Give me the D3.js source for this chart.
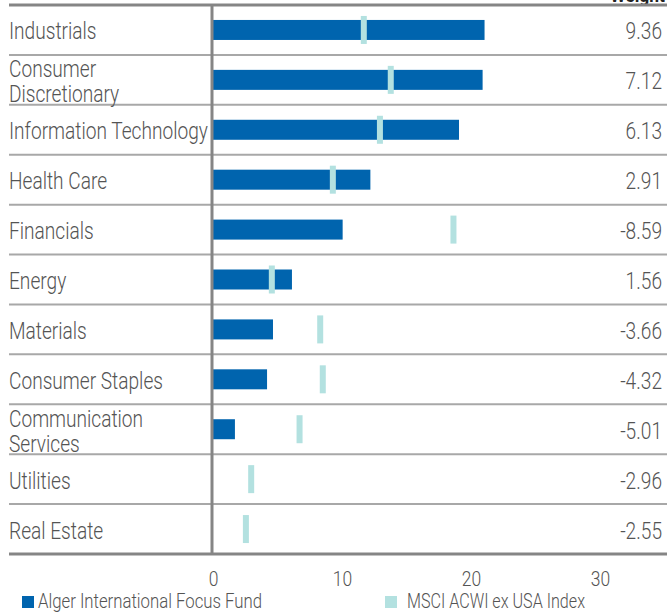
<!DOCTYPE html>
<html>
<head>
<meta charset="utf-8">
<script src="https://cdn.jsdelivr.net/npm/d3@7"></script>
<style>
  html, body { margin: 0; padding: 0; background: #fff; }
  svg { display: block; }
  text { font-family: Roboto, "Noto Sans", sans-serif; font-weight: 300; }
</style>
</head>
<body>
<svg id="chart" width="667" height="613"></svg>
<script>
const categories = [
  ["Industrials"],
  ["Consumer", "Discretionary"],
  ["Information Technology"],
  ["Health Care"],
  ["Financials"],
  ["Energy"],
  ["Materials"],
  ["Consumer Staples"],
  ["Communication", "Services"],
  ["Utilities"],
  ["Real Estate"]
];
const fundValues  = [21.05, 20.90, 19.07, 12.20, 10.05, 6.12, 4.65, 4.19, 1.70, 0, 0];
const indexValues = [11.69, 13.78, 12.94, 9.29, 18.64, 4.56, 8.31, 8.51, 6.71, 2.96, 2.55];
const activeWeights = ["9.36", "7.12", "6.13", "2.91", "-8.59", "1.56", "-3.66", "-4.32", "-5.01", "-2.96", "-2.55"];
const tickValues = [0, 10, 20, 30];
const seriesNames = ["Alger International Focus Fund", "MSCI ACWI ex USA Index"];

const fundColor = "#0064ae";
const indexColor = "#b3e1e0";
const textColor = "#545454";
const lineColor = "#a8a8a8";
const axisColor = "#858585";
const FS = 23;

const svg = d3.select("#chart");

const x = d3.scaleLinear().domain([0, 30]).range([213, 600]);
const y = d3.scaleBand().domain(d3.range(categories.length)).range([5, 554]).padding(0);
const bw = y.bandwidth();

// measure a condensing factor so the font matches the reference's narrow face
const probe = svg.append("text").attr("font-size", FS).text("Information Technology");
const natural = probe.node().getComputedTextLength();
probe.remove();
const sx = natural > 0 ? 199 / natural : 0.8;

// partially cropped header text
svg.append("text").attr("transform", `translate(665,2) scale(${sx},1)`).attr("text-anchor", "end")
  .attr("font-size", 21).style("font-weight", 700).attr("fill", "#222").text("Weight");

// row separators
svg.append("g").selectAll("line").data(d3.range(1, categories.length)).join("line")
  .attr("x1", 9).attr("x2", 667)
  .attr("y1", i => y(i)).attr("y2", i => y(i))
  .attr("stroke", lineColor).attr("stroke-width", 2);

// header & bottom line
svg.append("line").attr("x1", 9).attr("x2", 667).attr("y1", 5).attr("y2", 5)
  .attr("stroke", axisColor).attr("stroke-width", 3);
svg.append("line").attr("x1", 9).attr("x2", 667).attr("y1", 554).attr("y2", 554)
  .attr("stroke", axisColor).attr("stroke-width", 3);

// fund bars
svg.append("g").selectAll("rect").data(fundValues).join("rect")
  .attr("x", x(0))
  .attr("y", (d, i) => y(i) + bw / 2 - 10)
  .attr("width", d => x(d) - x(0))
  .attr("height", 20)
  .attr("fill", fundColor);

// index markers
svg.append("g").selectAll("rect").data(indexValues).join("rect")
  .attr("x", d => x(d) - 3)
  .attr("y", (d, i) => y(i) + bw / 2 - 14)
  .attr("width", 6)
  .attr("height", 28)
  .attr("fill", indexColor);

// vertical axis line
svg.append("line").attr("x1", 212).attr("x2", 212).attr("y1", 5).attr("y2", 555)
  .attr("stroke", axisColor).attr("stroke-width", 3);

// category labels
svg.append("g").selectAll("g").data(categories).join("g")
  .attr("transform", (d, i) => `translate(9,${y(i) + bw / 2}) scale(${sx},1)`)
  .each(function(d) {
    const g = d3.select(this);
    const lines = d.length === 1 ? [9.5] : [-2.5, 22.5];
    d.forEach((s, k) => {
      g.append("text").attr("x", 0).attr("y", lines[k])
        .attr("font-size", FS).attr("fill", textColor).text(s);
    });
  });

// active weights
svg.append("g").selectAll("text").data(activeWeights).join("text")
  .attr("transform", (d, i) => `translate(662,${y(i) + bw / 2 + 9.5}) scale(${sx},1)`)
  .attr("text-anchor", "end")
  .attr("font-size", FS)
  .attr("fill", textColor)
  .text(d => d);

// x axis tick labels
const xAxis = d3.axisBottom(x).tickValues(tickValues).tickSize(0).tickPadding(0);
const gx = svg.append("g").attr("transform", "translate(0,570)").call(xAxis);
gx.select(".domain").remove();
gx.selectAll("text")
  .attr("font-size", 21)
  .attr("fill", textColor)
  .attr("dy", 0).attr("y", 0)
  .attr("transform", `translate(0,16) scale(${sx},1)`)
  .style("font-family", "Roboto, sans-serif")
  .style("font-weight", 300);

// legend
const legX = [22, 385];
const legTextX = [38, 407];
const legLen = [224, 178];
const legColors = [fundColor, indexColor];
const leg = svg.append("g");
seriesNames.forEach((n, i) => {
  leg.append("rect").attr("x", legX[i]).attr("y", 596).attr("width", 12).attr("height", 12)
    .attr("fill", legColors[i]);
  leg.append("text").attr("x", legTextX[i]).attr("y", 608)
    .attr("font-size", 21).attr("fill", textColor)
    .attr("textLength", legLen[i]).attr("lengthAdjust", "spacingAndGlyphs")
    .text(n);
});
</script>
</body>
</html>
